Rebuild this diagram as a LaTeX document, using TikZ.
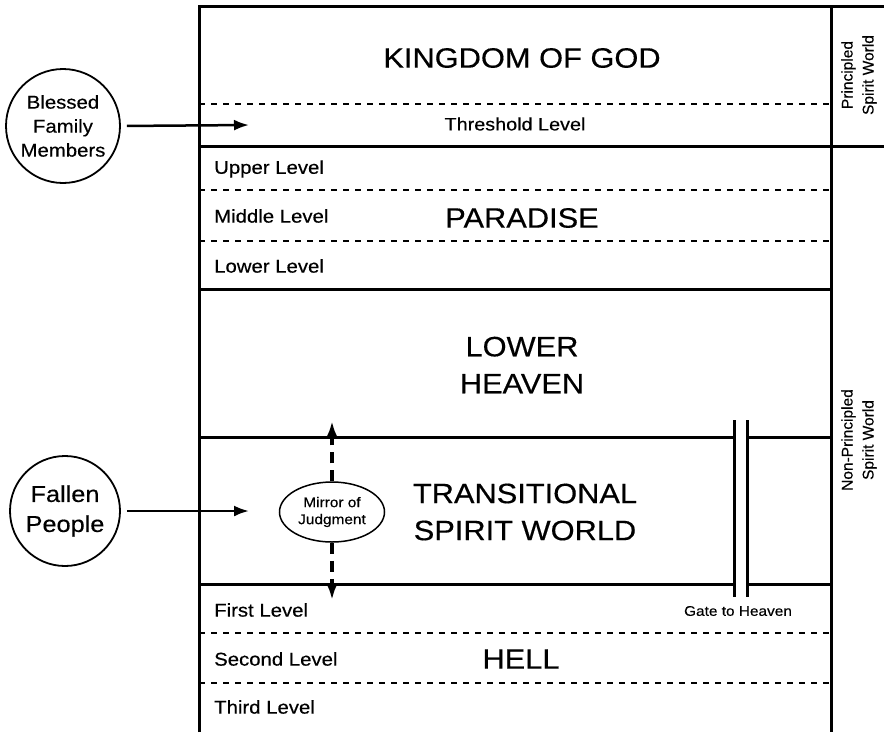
\documentclass[tikz,border=0pt]{standalone}
\usepackage{fontspec}
\setmainfont[FakeStretch=1.1,FakeBold=0.4]{Liberation Sans}
\newfontfamily\sidefont[FakeBold=0.4]{Liberation Sans}
\usetikzlibrary{arrows.meta,shapes.geometric}

\begin{document}
\begin{tikzpicture}
		[x=1pt,y=-1pt,
		wall/.style={line width=3pt},
		levelline/.style={line width=1.5pt, dash pattern=on 6pt off 6pt},
		bignode/.style={align=center, inner sep=0pt, font=\fontsize{28}{37}\selectfont},
		levelnode/.style={anchor=west, inner sep=0pt, font=\fontsize{18.5}{22}\selectfont},
		smallnode/.style={align=center, inner sep=0pt, font=\fontsize{14}{17}\selectfont},
		sidenode/.style={rotate=90, align=center, inner sep=0pt, font=\sidefont\fontsize{15.5}{21}\selectfont},
		peoplenode/.style={circle, draw, line width=1.8pt, inner sep=0pt, align=center},
		mirrornode/.style={ellipse, draw, line width=1.5pt, inner sep=0pt, minimum width=105pt, minimum height=60pt, align=center, font=\fontsize{14}{17}\selectfont},
		feed/.style={-{Latex[length=15pt,width=11pt]}, line width=2.5pt, shorten <=6pt},
		judge/.style={-{Latex[length=17pt,width=12pt]}, line width=4pt, dash pattern=on 11pt off 7pt},
		]
		\useasboundingbox (0,0) rectangle (884,732);
		
		%Walls
		\draw[wall] (199,732) -- (199,6) -- (884,6);
		\draw[wall] (831,6) -- (831,732);
		\draw[wall] (199,146) -- (884,146);
		\draw[wall] (199,289) -- (831,289);
		\draw[wall] (199,437) -- (734,437);
		\draw[wall] (747,437) -- (831,437);
		\draw[wall] (199,584) -- (734,584);
		\draw[wall] (747,584) -- (831,584);
		\draw[wall] (734,420) -- (734,597);
		\draw[wall] (747,420) -- (747,597);
		%Level lines
		\foreach \y in {104,190,241,633,683}
			\draw[levelline] (199,\y) -- (831,\y);
		
		%Nodes
		\node[bignode](kingdom) at (522,58) {KINGDOM OF GOD};
		\node[smallnode, font=\fontsize{18}{22}\selectfont](threshold) at (515,124) {Threshold Level};
		\node[levelnode](upper) at (214,169) {Upper Level};
		\node[levelnode](middle) at (214,216) {Middle Level};
		\node[levelnode](lower) at (214,266) {Lower Level};
		\node[bignode](paradise) at (522,218) {PARADISE};
		\node[bignode](lowerheaven) at (522,365) {LOWER\\HEAVEN};
		\node[bignode](transitional) at (525,512) {TRANSITIONAL\\SPIRIT WORLD};
		\node[levelnode](first) at (214,610) {First Level};
		\node[levelnode](second) at (214,659) {Second Level};
		\node[levelnode](third) at (214,707) {Third Level};
		\node[bignode](hell) at (521,659) {HELL};
		\node[smallnode](gate) at (738,611) {Gate to Heaven};
		\node[mirrornode](mirror) at (332,512) {Mirror of\\Judgment};
		\node[sidenode](principled) at (859,75) {Principled\\Spirit World};
		\node[sidenode](nonprincipled) at (859,440) {Non-Principled\\Spirit World};
		\node[peoplenode, minimum size=114pt, font=\fontsize{18.5}{24}\selectfont](blessed) at (63,126) {Blessed\\Family\\Members};
		\node[peoplenode, minimum size=110pt, font=\fontsize{23}{30}\selectfont](fallen) at (65,511) {Fallen\\People};
		\coordinate (blessedend) at (249,125);
		\coordinate (fallenend) at (249,511);
		\coordinate (mirrorup) at (332,421);
		\coordinate (mirrordown) at (332,600);
		
		%Arrows
		\draw[feed] (blessed.east) -- (blessedend);
		\draw[feed] (fallen.east) -- (fallenend);
		\draw[judge] (mirror.north) -- (mirrorup);
		\draw[judge] (mirror.south) -- (mirrordown);
	\end{tikzpicture}
\end{document}
